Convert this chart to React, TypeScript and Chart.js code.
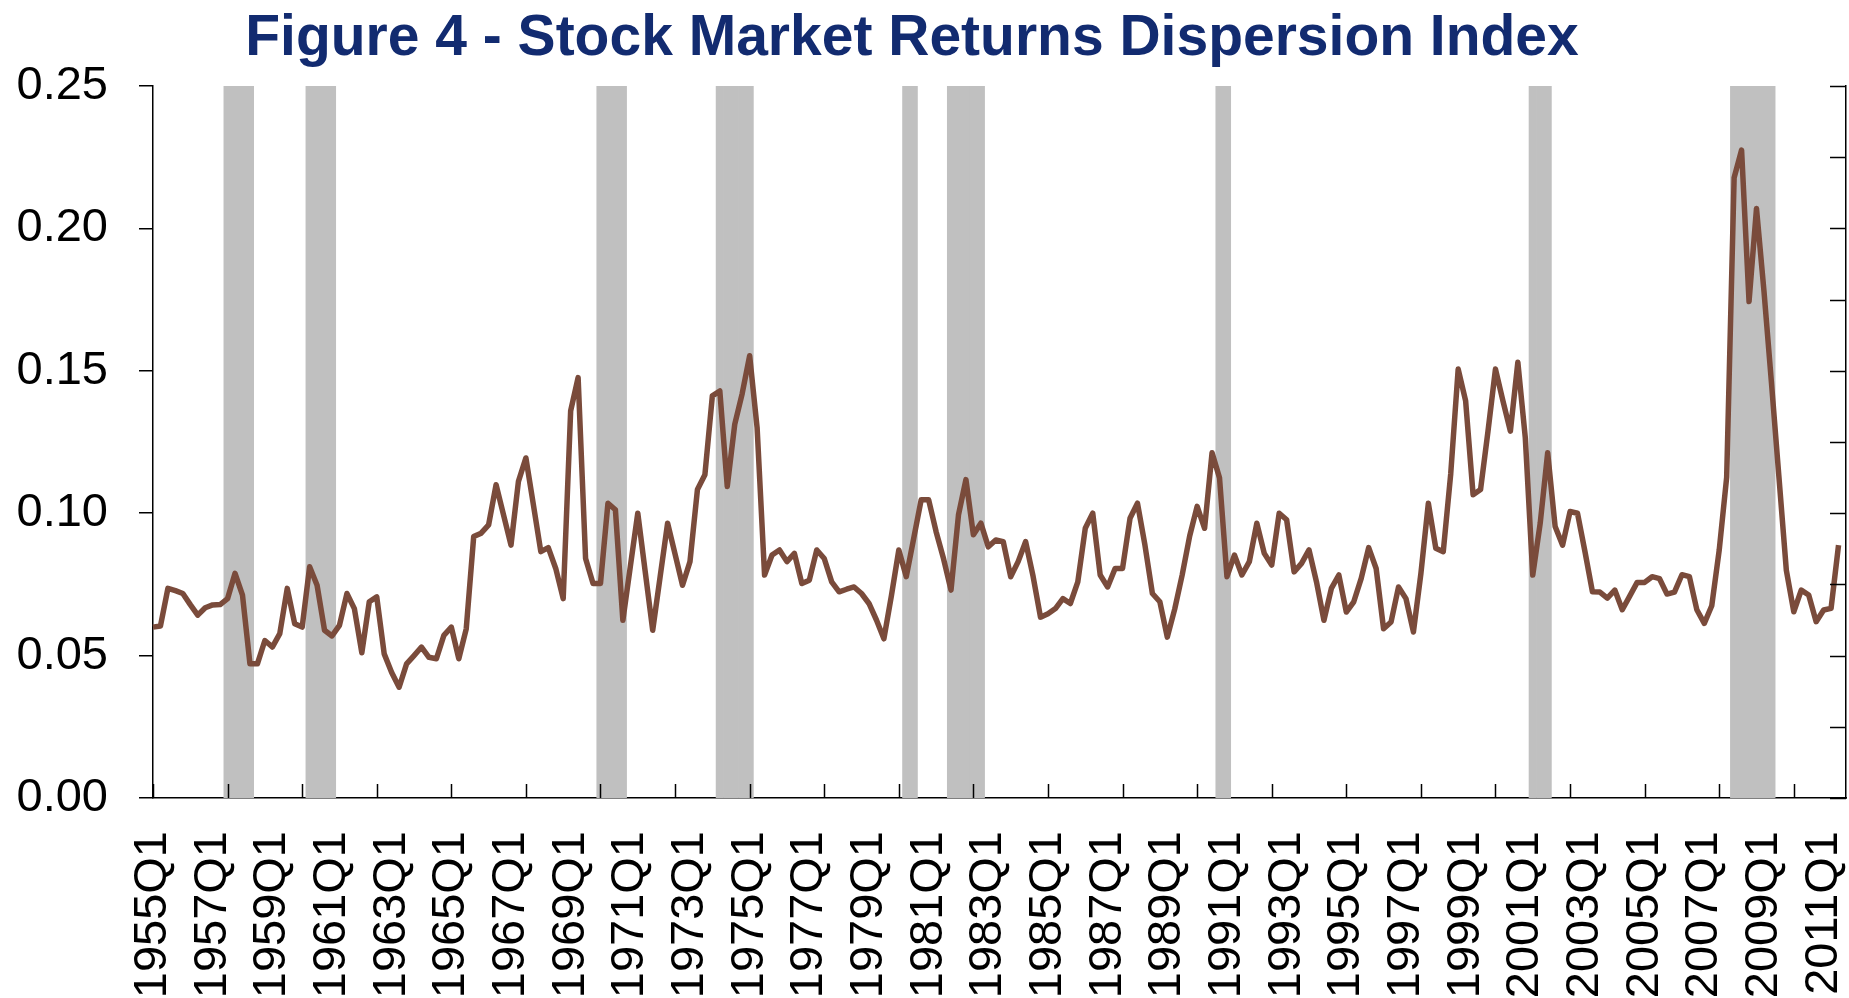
import React, { useEffect, useRef } from 'react';
import { Chart, registerables } from 'chart.js';

Chart.register(...registerables);

const TITLE = 'Figure 4 - Stock Market Returns Dispersion Index';

// Quarterly categories 1955Q1 .. 2011Q4
const FIRST_YEAR = 1955;
const LAST_YEAR = 2011;
const quarterLabels: string[] = [];
for (let y = FIRST_YEAR; y <= LAST_YEAR; y++) {
  for (let q = 1; q <= 4; q++) quarterLabels.push(`${y}Q${q}`);
}

// Label every 8th quarter, tick mark every 10th quarter (as in the original Excel chart)
const LABEL_EVERY = 8;
const TICK_EVERY = 10;

// Stock market returns dispersion index, 1955Q1 .. 2011Q4 (last quarter missing)
const dispersion: (number | null)[] = [
  0.060, 0.0604, 0.0736, 0.0728, 0.0718, 0.0679, 0.0642, 0.0668, 0.0678, 0.0679,
  0.070, 0.0789, 0.0712, 0.0471, 0.0471, 0.0553, 0.053, 0.0577, 0.0736, 0.0612,
  0.060, 0.0812, 0.0747, 0.0589, 0.0569, 0.0606, 0.0718, 0.0665, 0.051, 0.0689,
  0.0706, 0.0506, 0.0441, 0.0389, 0.0471, 0.050, 0.053, 0.0494, 0.0489, 0.0571,
  0.060, 0.0489, 0.0594, 0.0918, 0.093, 0.0959, 0.110, 0.0994, 0.0888, 0.1112,
  0.1194, 0.103, 0.0865, 0.0879, 0.0806, 0.070, 0.1359, 0.1476, 0.0841, 0.0753,
  0.0753, 0.1035, 0.1012, 0.0624, 0.0812, 0.100, 0.0794, 0.0589, 0.0777, 0.0965,
  0.0856, 0.0747, 0.083, 0.1083, 0.1135, 0.1412, 0.1429, 0.1094, 0.1312, 0.142,
  0.1553, 0.130, 0.0783, 0.0853, 0.0871, 0.083, 0.0859, 0.0753, 0.0765, 0.0871,
  0.0841, 0.0759, 0.0724, 0.0733, 0.0741, 0.0718, 0.0683, 0.0625, 0.0559, 0.0709,
  0.0871, 0.0777, 0.0912, 0.1047, 0.1047, 0.0935, 0.084, 0.073, 0.0994, 0.1118,
  0.0924, 0.0965, 0.0882, 0.0906, 0.090, 0.0777, 0.083, 0.090, 0.0779, 0.0635,
  0.0647, 0.0665, 0.070, 0.0683, 0.0759, 0.0947, 0.100, 0.0783, 0.0741, 0.0806,
  0.0806, 0.0982, 0.1035, 0.0888, 0.0718, 0.0689, 0.0565, 0.0664, 0.0784, 0.092,
  0.1024, 0.0947, 0.1212, 0.1124, 0.0777, 0.0853, 0.0783, 0.083, 0.0965, 0.0859,
  0.0818, 0.100, 0.0977, 0.0794, 0.0824, 0.0871, 0.0759, 0.0624, 0.0736, 0.0783,
  0.0653, 0.0689, 0.0771, 0.0879, 0.0806, 0.0594, 0.0618, 0.0741, 0.070, 0.0583,
  0.0788, 0.1035, 0.0877, 0.0865, 0.1138, 0.1506, 0.1394, 0.1065, 0.1083, 0.1288,
  0.1506, 0.1394, 0.1288, 0.153, 0.1265, 0.0783, 0.0965, 0.1212, 0.0953, 0.0888,
  0.1006, 0.100, 0.0865, 0.0724, 0.0723, 0.0702, 0.073, 0.0661, 0.0709, 0.0757,
  0.0757, 0.0777, 0.077, 0.0716, 0.0723, 0.0784, 0.0777, 0.0661, 0.0613, 0.0675,
  0.087, 0.1126, 0.2178, 0.2275, 0.1743, 0.207, 0.178, 0.146, 0.113, 0.080,
  0.0654, 0.073, 0.0713, 0.0619, 0.066, 0.0666, 0.0888, null,
];

// Recession periods shown as grey bands (first and last quarter)
const recessionStarts = ['1957Q3', '1960Q2', '1970Q1', '1974Q1', '1980Q2', '1981Q4', '1990Q4', '2001Q2', '2008Q1'];
const recessionEnds = ['1958Q2', '1961Q1', '1970Q4', '1975Q1', '1980Q3', '1982Q4', '1991Q1', '2001Q4', '2009Q2'];

const recession: (number | null)[] = quarterLabels.map((_, i) => {
  for (let k = 0; k < recessionStarts.length; k++) {
    const s = quarterLabels.indexOf(recessionStarts[k]);
    const e = quarterLabels.indexOf(recessionEnds[k]);
    if (i >= s && i <= e) return 1;
  }
  return null;
});

const yTickValues = [0, 0.05, 0.1, 0.15, 0.2, 0.25];

const FONT = "'Liberation Sans', Arial, Helvetica, sans-serif";

const decorPlugin = {
  id: 'decor',
  afterDraw(chart: any) {
    const { ctx, chartArea, scales } = chart;
    const x = scales.x;
    const y2 = scales.y2;
    ctx.save();
    ctx.strokeStyle = '#000';
    ctx.lineWidth = 1.5;
    ctx.beginPath();
    for (let i = 0; i < quarterLabels.length; i += TICK_EVERY) {
      const px = Math.round(x.getPixelForValue(i)) + 0.5;
      ctx.moveTo(px, chartArea.bottom);
      ctx.lineTo(px, chartArea.bottom - 14);
    }
    y2.ticks.forEach((t: any) => {
      const py = Math.round(y2.getPixelForValue(t.value)) + 0.5;
      ctx.moveTo(chartArea.right, py);
      ctx.lineTo(chartArea.right - 16, py);
    });
    ctx.stroke();

    ctx.fillStyle = '#122B70';
    ctx.font = `bold 57px ${FONT}`;
    ctx.textAlign = 'center';
    ctx.textBaseline = 'alphabetic';
    ctx.fillText(TITLE, 912, 55);
    ctx.restore();
  },
};

export default function App() {
  const canvasRef = useRef<HTMLCanvasElement | null>(null);

  useEffect(() => {
    if (!canvasRef.current) return;
    Chart.defaults.font.family = FONT;
    const chart = new Chart(canvasRef.current, {
      type: 'line',
      data: {
        labels: quarterLabels,
        datasets: [
          {
            type: 'line',
            label: 'Dispersion index',
            data: dispersion,
            borderColor: '#7A4B3B',
            backgroundColor: '#7A4B3B',
            borderWidth: 5.5,
            pointRadius: 0,
            tension: 0,
            yAxisID: 'y',
            order: 1,
            borderJoinStyle: 'round',
          } as any,
          {
            type: 'bar',
            label: 'Recession',
            data: recession,
            backgroundColor: '#C0C0C0',
            borderWidth: 0,
            barPercentage: 1,
            categoryPercentage: 1,
            yAxisID: 'y2',
            order: 2,
          } as any,
        ],
      },
      options: {
        responsive: false,
        animation: false,
        devicePixelRatio: 1,
        layout: { padding: { top: 86, left: 0, right: 0, bottom: 0 } },
        plugins: {
          legend: { display: false },
          tooltip: { enabled: false },
          title: { display: false },
        },
        scales: {
          x: {
            type: 'category',
            offset: false,
            grid: { display: false, drawTicks: false, tickLength: 0, offset: false },
            border: { display: true, color: '#000', width: 1.5 },
            ticks: {
              autoSkip: false,
              maxRotation: 90,
              minRotation: 90,
              padding: 33,
              color: '#000',
              font: { size: 47, family: FONT },
              callback: (_v: any, i: number) => (i % LABEL_EVERY === 0 ? quarterLabels[i] : ''),
            },
            afterFit: (s: any) => {
              s.height = 200;
              s.paddingLeft = 0;
              s.paddingRight = 0;
            },
          },
          y: {
            position: 'left',
            min: 0,
            max: 0.25,
            afterBuildTicks: (s: any) => {
              s.ticks = yTickValues.map((v) => ({ value: v }));
            },
            grid: {
              display: true,
              drawOnChartArea: false,
              drawTicks: true,
              tickLength: 14,
              color: '#000',
              lineWidth: 1.5,
            },
            border: { display: true, color: '#000', width: 1.5 },
            ticks: {
              padding: 31,
              color: '#000',
              font: { size: 47, family: FONT },
              callback: (v: any) => Number(v).toFixed(2),
            },
            afterFit: (s: any) => {
              s.width = 153;
            },
          },
          y2: {
            position: 'right',
            min: 0,
            max: 1,
            ticks: { display: false, stepSize: 0.1 },
            grid: { display: false, drawTicks: false },
            border: { display: true, color: '#000', width: 1.5 },
            afterFit: (s: any) => {
              s.width = 3;
              s.paddingTop = 0;
              s.paddingBottom = 0;
            },
          },
        },
      } as any,
      plugins: [decorPlugin],
    });
    return () => chart.destroy();
  }, []);

  return (
    <div style={{ position: 'absolute', left: 0, top: 0, width: 1849, height: 998, background: '#fff' }}>
      <canvas ref={canvasRef} width={1849} height={998} style={{ display: 'block', width: 1849, height: 998 }} />
    </div>
  );
}
